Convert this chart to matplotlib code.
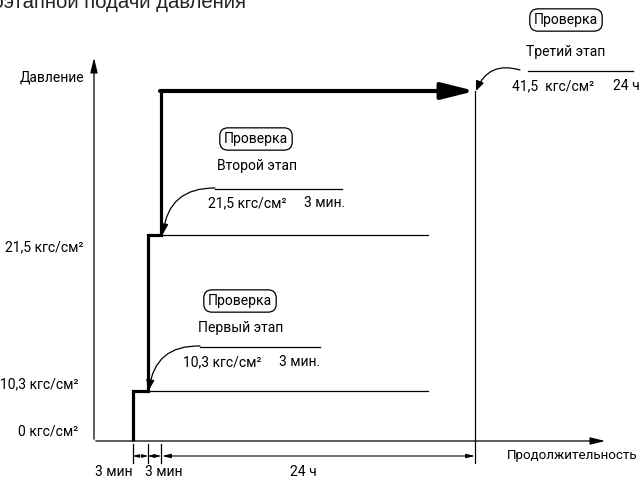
import matplotlib
matplotlib.use("Agg")
import matplotlib.pyplot as plt
from matplotlib.patches import FancyArrowPatch

plt.rcParams['font.family'] = ['Roboto', 'DejaVu Sans']

# schematic chart units: origin at the axes crossing, not to scale
stage_x = [39, 54, 67, 381]          # ends of each interval on the time axis
level_y = [0, 50, 206, 350]          # schematic heights of the pressure levels
level_labels = ["0 кгс/см²", "10,3 кгс/см²", "21,5 кгс/см²"]
interval_labels = ["3 мин", "3 мин", "24 ч"]
stage_names = ["Первый этап", "Второй этап", "Третий этап"]
stage_pressure = ["10,3 кгс/см²", "21,5 кгс/см²", "41,5  кгс/см²"]
stage_hold = ["3 мин.", "3 мин.", "24 ч"]

fig = plt.figure(figsize=(6.41, 4.82), dpi=100)
ax = fig.add_axes([0, 0, 1, 1])
ax.set_xlim(-94, 547)
ax.set_ylim(-41, 441)
ax.axis('off')

thin = 0.9
k = 'black'
fs = 10

# title fragment at the top (cut off by the frame)
ax.text(152, 433, "Схема поэтапной подачи давления", ha='right', va='baseline',
        fontsize=14.6, family=['Liberation Sans', 'DejaVu Sans'], color='#222222')

# axes with arrows
ax.annotate("", xy=(0, 386), xytext=(0, -1),
            arrowprops=dict(arrowstyle='-|>,head_length=0.9,head_width=0.22', lw=thin, color=k))
ax.annotate("", xy=(514, 0), xytext=(-1, 0),
            arrowprops=dict(arrowstyle='-|>,head_length=0.9,head_width=0.22', lw=thin, color=k))
ax.text(-10, 364, "Давление", ha='right', va='center', fontsize=fs)
ax.text(544, -15, "Продолжительность", ha='right', va='center', fontsize=9.6)

# level labels
lab_x = [-16, -16, -11]
lab_dy = [10, 7, -12]
for lbl, y, x, dy in zip(level_labels, level_y[:3], lab_x, lab_dy):
    ax.text(x, y + dy, lbl, ha='right', va='center', fontsize=fs)

# thick step path
px = [stage_x[0], stage_x[0], stage_x[1], stage_x[1], stage_x[2], stage_x[2]]
py = [level_y[0], level_y[1], level_y[1], level_y[2], level_y[2], level_y[3]]
ax.plot(px, py, color=k, lw=2.3, solid_joinstyle='miter', solid_capstyle='butt')
ax.annotate("", xy=(stage_x[3], level_y[3]), xytext=(stage_x[2] - 1, level_y[3]),
            arrowprops=dict(arrowstyle='-|>,head_length=2.0,head_width=0.5',
                            lw=3, color=k, shrinkA=0, shrinkB=0))

# thin hold lines
ax.plot([stage_x[1], 334], [level_y[1], level_y[1]], color=k, lw=thin)
ax.plot([stage_x[2], 334], [level_y[2], level_y[2]], color=k, lw=thin)
ax.plot([stage_x[3], stage_x[3]], [level_y[3], -22], color=k, lw=thin)

# dimension ticks and arrows
for x in stage_x[:3]:
    ax.plot([x, x], [-3, -22], color=k, lw=thin)
dim_y = -15
lab_cx = [20, 70, 209]
for i in range(3):
    a, b = stage_x[i], stage_x[i + 1]
    if i < 2:
        ax.annotate("", xy=(b, dim_y), xytext=(a, dim_y),
                    arrowprops=dict(arrowstyle='<|-|>,head_length=0.35,head_width=0.1',
                                    lw=0.6, color=k, shrinkA=0, shrinkB=0))
    else:
        ax.annotate("", xy=(b, dim_y), xytext=(a + 1, dim_y),
                    arrowprops=dict(arrowstyle='<|-|>,head_length=0.5,head_width=0.12',
                                    lw=0.8, color=k, shrinkA=0, shrinkB=0))
    ax.text(lab_cx[i], -31, interval_labels[i], ha='center', va='center', fontsize=fs)

# stage annotations
box_pos = [(146, 140), (162, 302), (472, 421)]
name_pos = [(147, 113), (163, 275), (472, 389)]
line_pos = [(106, 226, 94), (121, 248, 252), (434, 539, 370)]
pres_pos = [(89, 79), (114, 238), (418, 355)]
hold_x = [185, 210, 519]
arrow_tip = [(stage_x[1] + 1, level_y[1] + 1), (stage_x[2] + 2, level_y[2] + 1),
             (stage_x[3] + 1, level_y[3])]

for i in range(3):
    bx, by = box_pos[i]
    ax.text(bx, by, "Проверка", ha='center', va='center', fontsize=fs,
            bbox=dict(boxstyle='round,pad=0.3,rounding_size=0.6', fc='#fbfbfb', ec=k, lw=0.9))
    nx, ny = name_pos[i]
    ax.text(nx, ny, stage_names[i], ha='center', va='center', fontsize=fs)
    x0, x1, ly = line_pos[i]
    ax.plot([x0, x1], [ly, ly], color=k, lw=thin)
    tx, ty = pres_pos[i]
    ax.text(tx, ty, stage_pressure[i], ha='left', va='center', fontsize=fs)
    ax.text(hold_x[i], ty, stage_hold[i], ha='left', va='center', fontsize=fs)
    start = (x0 - 8 if i == 2 else x0, ly + 1)
    arr = FancyArrowPatch(start, arrow_tip[i], connectionstyle='arc3,rad=0.45',
                          arrowstyle='-|>,head_length=6,head_width=2.5',
                          lw=0.9, color=k, shrinkA=0, shrinkB=0)
    ax.add_patch(arr)

fig.savefig("out.png", dpi=100, facecolor='white')
